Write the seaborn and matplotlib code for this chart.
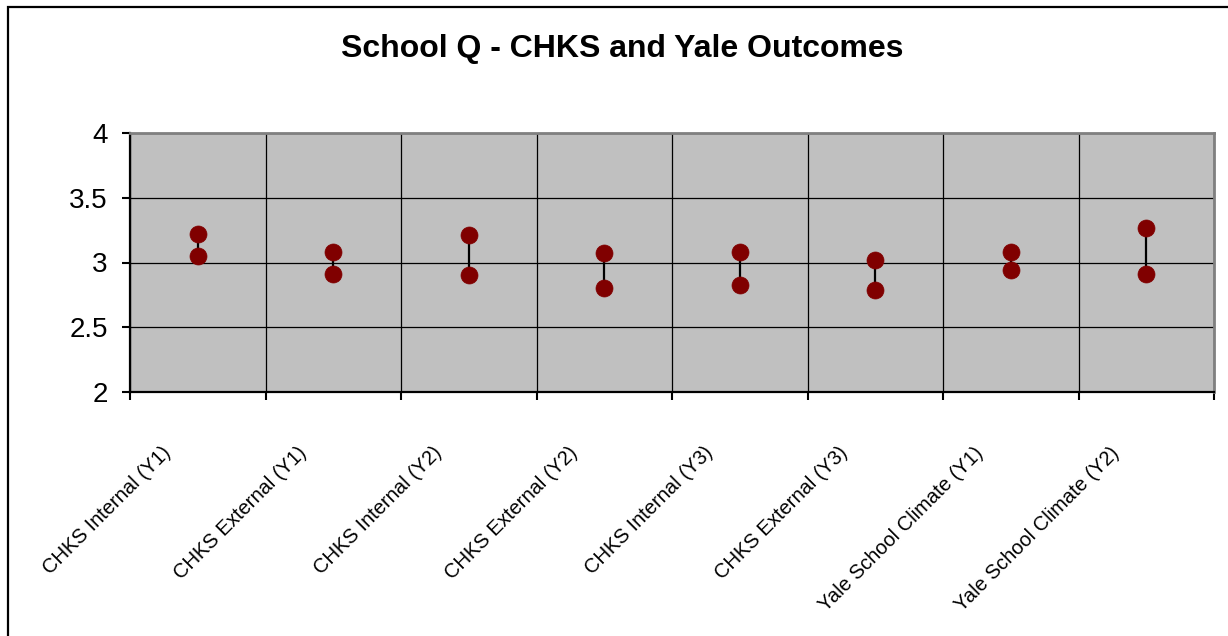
import numpy as np
import pandas as pd
import matplotlib
matplotlib.use("Agg")
import matplotlib.pyplot as plt
import matplotlib.transforms as mtransforms
from matplotlib.patches import Rectangle
import seaborn as sns

# ---- data ----
categories = [
    "CHKS Internal (Y1)",
    "CHKS External (Y1)",
    "CHKS Internal (Y2)",
    "CHKS External (Y2)",
    "CHKS Internal (Y3)",
    "CHKS External (Y3)",
    "Yale School Climate (Y1)",
    "Yale School Climate (Y2)",
]
high_values = [3.22, 3.08, 3.21, 3.07, 3.08, 3.02, 3.08, 3.27]
low_values = [3.05, 2.91, 2.90, 2.80, 2.83, 2.79, 2.94, 2.91]
y_ticks = [2, 2.5, 3, 3.5, 4]
y_tick_labels = ["2", "2.5", "3", "3.5", "4"]
title = "School Q - CHKS and Yale Outcomes"

sns.set_theme(style="white")
plt.rcParams["font.family"] = ["Liberation Sans", "DejaVu Sans"]

W, H = 1228, 636
fig = plt.figure(figsize=(W / 100, H / 100), dpi=100)
ax = fig.add_axes([130 / W, 1 - 392 / H, (1214 - 130) / W, (392 - 133) / H])
ax.set_facecolor("#C0C0C0")

pos = np.arange(len(categories))
df = pd.DataFrame({
    "pos": np.concatenate([pos, pos]),
    "value": high_values + low_values,
    "kind": ["high"] * len(categories) + ["low"] * len(categories),
})

# high-low lines
ax.vlines(pos, low_values, high_values, color="black", lw=1.6, zorder=3)
sns.scatterplot(data=df, x="pos", y="value", color="#800000", edgecolor="#800000",
                s=150, marker="o", linewidth=0.5, ax=ax, zorder=4, legend=False)

ax.set_xlim(-0.5, len(categories) - 0.5)
ax.set_ylim(2, 4)
ax.set_xlabel("")
ax.set_ylabel("")

# grid
ax.set_yticks(y_ticks)
ax.set_yticklabels(y_tick_labels, fontsize=20, color="black")
ax.set_xticks(np.arange(-0.5, len(categories), 1.0))
ax.set_xticklabels([])
ax.grid(True, color="black", lw=0.9, zorder=1)
ax.set_axisbelow(True)
ax.tick_params(axis="y", direction="out", length=6, width=1.5, pad=10, left=True, color="black")
ax.tick_params(axis="x", direction="out", length=6, width=1.5, bottom=True, color="black")

for s in ["left", "bottom"]:
    ax.spines[s].set_color("black")
    ax.spines[s].set_linewidth(1.6)
for s in ["top", "right"]:
    ax.spines[s].set_color("#808080")
    ax.spines[s].set_linewidth(2)

# rotated category labels
trans = mtransforms.blended_transform_factory(ax.transData, ax.transAxes)
offset = mtransforms.ScaledTranslation(-30 / 100, -58 / 100, fig.dpi_scale_trans)
for p, lab in zip(pos, categories):
    ax.text(p, 0, lab, transform=trans + offset, rotation=45, ha="right", va="center",
            rotation_mode="anchor", fontsize=14.5, color="black")

# title
fig.text(622 / W, 1 - 49 / H, title, ha="center", va="center", fontsize=23,
         fontweight="bold", color="black")

# chart-area border
fig.patches.append(Rectangle((8 / W, -0.1), (1240 - 8) / W, (H - 7) / H + 0.1,
                             transform=fig.transFigure, fill=False, edgecolor="black",
                             lw=1.6, zorder=10))

fig.savefig("out.png", dpi=100, facecolor="white")
